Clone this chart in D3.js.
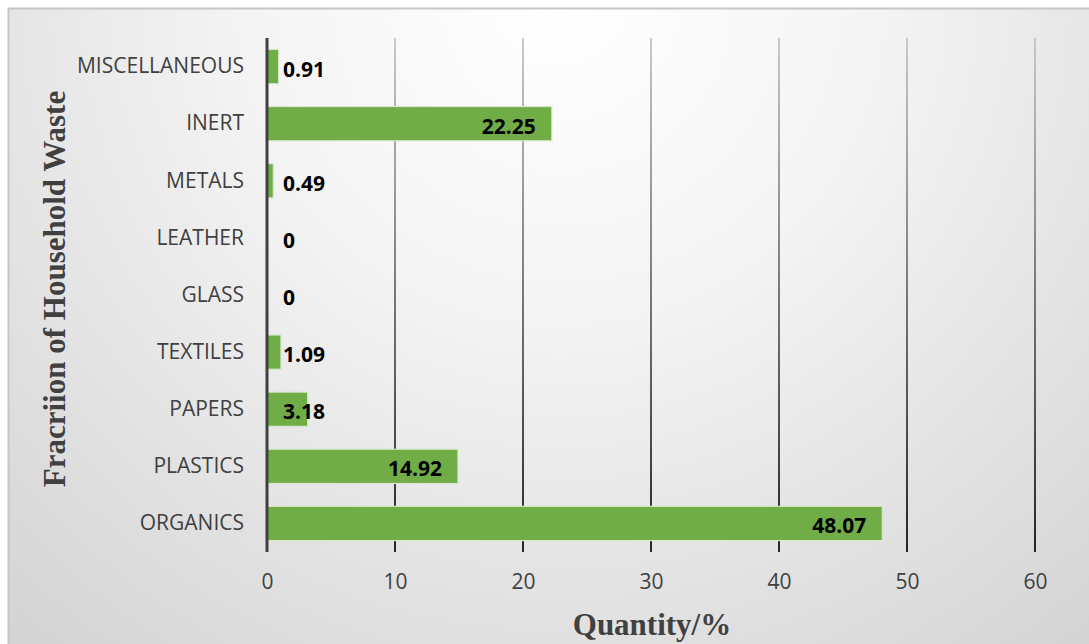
<!DOCTYPE html>
<html>
<head>
<meta charset="utf-8">
<script src="https://cdn.jsdelivr.net/npm/d3@7/dist/d3.min.js"></script>
<style>
  html, body { margin: 0; padding: 0; background: #ffffff; }
  svg { display: block; }
</style>
</head>
<body>
<svg id="chart" width="1089" height="644"></svg>
<script>
// Household waste composition by fraction (% of total)
const categories = ["MISCELLANEOUS", "INERT", "METALS", "LEATHER", "GLASS", "TEXTILES", "PAPERS", "PLASTICS", "ORGANICS"];
const quantities = [0.91, 22.25, 0.49, 0, 0, 1.09, 3.18, 14.92, 48.07];
const xTicks = [0, 10, 20, 30, 40, 50, 60];
const xTitle = "Quantity/%";
const yTitle = "Fracriion of Household Waste";

const W = 1089, H = 644;
const plot = { left: 267, right: 1035, top: 38, bottom: 552 };

const svg = d3.select("#chart");
const defs = svg.append("defs");

// soft grey backdrop, brightest near the top centre
const bg = defs.append("radialGradient")
  .attr("id", "bgGrad").attr("gradientUnits", "userSpaceOnUse")
  .attr("cx", 560).attr("cy", 0).attr("r", 900);
bg.append("stop").attr("offset", 0).attr("stop-color", "#ffffff");
bg.append("stop").attr("offset", 0.35).attr("stop-color", "#f4f4f4");
bg.append("stop").attr("offset", 1).attr("stop-color", "#d0d0d0");

// gridlines fade from light grey at the top to near-black at the bottom
const gg = defs.append("linearGradient")
  .attr("id", "gridGrad").attr("gradientUnits", "userSpaceOnUse")
  .attr("x1", 0).attr("y1", plot.top).attr("x2", 0).attr("y2", plot.bottom);
gg.append("stop").attr("offset", 0).attr("stop-color", "#c4c4c4");
gg.append("stop").attr("offset", 1).attr("stop-color", "#111111");

svg.append("rect")
  .attr("x", 8.5).attr("y", 8.5).attr("width", W + 20).attr("height", H + 20)
  .attr("fill", "url(#bgGrad)").attr("stroke", "#c6c6c6").attr("stroke-width", 2);

const x = d3.scaleLinear().domain([0, 60]).range([plot.left, plot.right]);
const y = d3.scaleBand().domain(categories).range([plot.top, plot.bottom])
  .paddingInner(0.4).paddingOuter(0.2);

// vertical gridlines
svg.append("g").selectAll("line")
  .data(xTicks.filter(d => d > 0))
  .join("line")
  .attr("x1", d => x(d)).attr("x2", d => x(d))
  .attr("y1", plot.top).attr("y2", plot.bottom)
  .attr("stroke", "url(#gridGrad)").attr("stroke-width", 1.8);

// x tick labels
const xAxis = svg.append("g")
  .attr("transform", `translate(0,${plot.bottom})`)
  .call(d3.axisBottom(x).tickValues(xTicks).tickSize(0).tickPadding(22));
xAxis.select(".domain").remove();
xAxis.selectAll("text")
  .attr("font-family", "'Open Sans', sans-serif")
  .attr("font-size", 21)
  .attr("fill", "#404040");

// bars
const data = categories.map((c, i) => ({ c, v: quantities[i] }));
svg.append("g").selectAll("rect")
  .data(data.filter(d => d.v > 0))
  .join("rect")
  .attr("x", x(0))
  .attr("y", d => y(d.c))
  .attr("width", d => x(d.v) - x(0))
  .attr("height", y.bandwidth())
  .attr("fill", "#70ad47")
  .attr("stroke", "#d6e8cc")
  .attr("stroke-width", 1.2);

// category axis
const yAxis = svg.append("g")
  .attr("transform", `translate(${plot.left},0)`)
  .call(d3.axisLeft(y).tickSize(0).tickPadding(23));
yAxis.select(".domain").remove();
yAxis.selectAll("text")
  .attr("font-family", "'Open Sans', sans-serif")
  .attr("font-size", 21)
  .attr("fill", "#404040");

// zero baseline
svg.append("line")
  .attr("x1", x(0)).attr("x2", x(0))
  .attr("y1", plot.top).attr("y2", plot.bottom)
  .attr("stroke", "#404040").attr("stroke-width", 3);

// value labels: inside the end of long bars, otherwise just past the base
const labels = svg.append("g").selectAll("text")
  .data(data)
  .join("text")
  .attr("font-family", "'Open Sans', sans-serif")
  .attr("font-weight", "bold")
  .attr("font-size", 21)
  .attr("fill", "#000000")
  .attr("y", d => y(d.c) + y.bandwidth() / 2 + 2)
  .attr("dominant-baseline", "central")
  .text(d => String(d.v));
labels.each(function (d) {
  const w = this.getComputedTextLength();
  const barW = x(d.v) - x(0);
  const t = d3.select(this);
  if (barW > w + 32) {
    t.attr("text-anchor", "end").attr("x", x(d.v) - 16);
  } else {
    t.attr("text-anchor", "start").attr("x", x(0) + 16);
  }
});

// axis titles
svg.append("text")
  .attr("x", (plot.left + plot.right) / 2 + 1).attr("y", 635)
  .attr("text-anchor", "middle")
  .attr("font-family", "'Liberation Serif', 'Times New Roman', serif")
  .attr("font-weight", "bold").attr("font-size", 31)
  .attr("fill", "#404040")
  .text(xTitle);

svg.append("text")
  .attr("transform", "translate(65,289) rotate(-90)")
  .attr("text-anchor", "middle")
  .attr("font-family", "'Liberation Serif', 'Times New Roman', serif")
  .attr("font-weight", "bold").attr("font-size", 31)
  .attr("fill", "#404040")
  .text(yTitle);
</script>
</body>
</html>
